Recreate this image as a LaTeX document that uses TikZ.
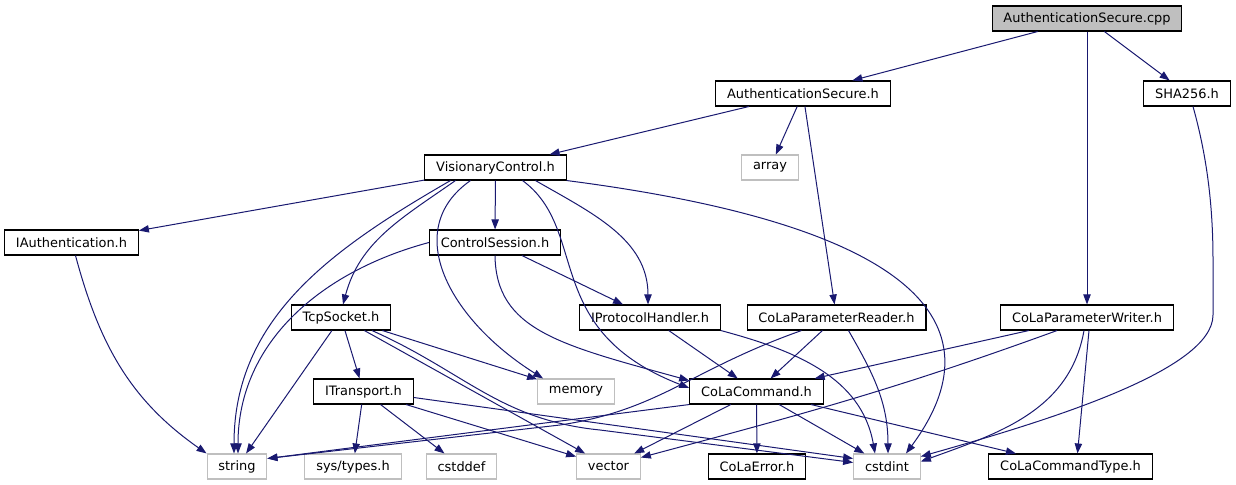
\documentclass[tikz,border=0pt]{standalone}
\usepackage{fontspec}
\setmainfont{DejaVu Sans}
\usetikzlibrary{arrows.meta,calc}
\definecolor{edgeblue}{HTML}{191970}
\definecolor{sysgray}{HTML}{BFBFBF}

\begin{document}
\begin{tikzpicture}[
  x=0.75pt,y=-0.75pt,
  file/.style={draw=black,line width=0.8pt,fill=white,inner xsep=8.5pt,inner ysep=0pt,
    minimum height=18.75pt,font=\fontsize{9.7}{11}\selectfont},
  sys/.style={file,draw=sysgray},
  dep/.style={-{Triangle[length=7.5pt,width=5.5pt]},color=edgeblue,line width=0.75pt}
]
  \useasboundingbox (0,0) rectangle (1236,485);
  \draw (1087,18.5) node[file,fill=sysgray] (cpp) {AuthenticationSecure.cpp}
        (803,93.5) node[file] (ash) {AuthenticationSecure.h}
        (1187,93.5) node[file] (sha) {SHA256.h}
        (770,167.5) node[sys] (arr) {array}
        (495.5,167.5) node[file] (vc) {VisionaryControl.h}
        (71.5,242.5) node[file] (iauth) {IAuthentication.h}
        (495,242.5) node[file] (cs) {ControlSession.h}
        (341,317.5) node[file] (tcp) {TcpSocket.h}
        (650,317.5) node[file] (iph) {IProtocolHandler.h}
        (836.5,317.5) node[file] (cpr) {CoLaParameterReader.h}
        (1087,317.5) node[file] (cpw) {CoLaParameterWriter.h}
        (576,391.5) node[sys] (mem) {memory}
        (363.5,391.5) node[file] (itr) {ITransport.h}
        (756.5,391.5) node[file] (ccmd) {CoLaCommand.h}
        (237,466.5) node[sys] (str) {string}
        (353,466.5) node[sys] (styp) {sys/types.h}
        (461.5,466.5) node[sys] (cdef) {cstddef}
        (608.5,466.5) node[sys] (vec) {vector}
        (757,466.5) node[file] (cerr) {CoLaError.h}
        (887,466.5) node[sys] (cint) {cstdint}
        (1070.5,466.5) node[file] (cct) {CoLaCommandType.h};
  % top level
  \draw[dep] (cpp) -- (ash);
  \draw[dep] (cpp) -- (cpw);
  \draw[dep] (cpp) -- (sha);
  \draw[dep] (ash) -- (vc);
  \draw[dep] (ash) -- (arr);
  \draw[dep] (ash) -- (cpr);
  \draw[dep] ($(sha.south)+(6,0)$) .. controls (1208,160) and (1213,210) .. (1213,260)
        -- (1213,315) .. controls (1213,370) and (1050,420) .. ($(cint.east)+(0,-10)$);
  % VisionaryControl.h
  \draw[dep] (vc) -- (iauth);
  \draw[dep] (vc) -- (cs);
  \draw[dep] ($(vc.south)+(-40,0)$) to[out=-145,in=75] ($(tcp.north)+(2,0)$);
  \draw[dep] ($(vc.south)+(-45,0)$) to[out=-150,in=90] ($(str.north)+(-3,0)$);
  \draw[dep] ($(vc.south)+(-25,0)$) .. controls (400,230) and (450,320) .. ($(mem.north west)+(6,0)$);
  \draw[dep] ($(vc.south)+(27,0)$) .. controls (590,230) and (540,330) .. ($(ccmd.west)+(0,-3.5)$);
  \draw[dep] ($(vc.south)+(40,0)$) to[out=-30,in=90] ($(iph.north)+(-2,0)$);
  \draw[dep] (vc.south east) .. controls (950,230) and (990,340) .. ($(cint.north)+(19,0)$);
  % second level
  \draw[dep] ($(iauth.south)+(4,0)$) to[out=-75,in=145] (str.north west);
  \draw[dep] (cs.west) to[out=195,in=90] ($(str.north)+(1,0)$);
  \draw[dep] (cs) -- (iph);
  \draw[dep] (cs.south) .. controls (496,330) and (560,345) .. ($(ccmd.west)+(0,-11)$);
  \draw[dep] (tcp) -- (itr);
  \draw[dep] (tcp) -- (str);
  \draw[dep] (tcp) -- (mem);
  \draw[dep] (tcp) -- (vec);
  \draw[dep] ($(tcp.south)+(31,0)$) .. controls (465,372) and (500,420) .. (600,430)
        -- ($(cint.west)+(0,-4)$);
  \draw[dep] (itr) -- (styp);
  \draw[dep] (itr) -- (cdef);
  \draw[dep] (itr) -- (vec);
  \draw[dep] ($(itr.east)+(0,6)$) -- ($(cint.west)+(0,-8)$);
  \draw[dep] (iph) -- (ccmd);
  \draw[dep] (iph.south east) to[out=-15,in=100] ($(cint.north)+(-12,0)$);
  \draw[dep] (cpr) -- (ccmd);
  \draw[dep] ($(cpr.south)+(12,0)$) to[out=-60,in=90] ($(cint.north)+(1,0)$);
  \draw[dep] ($(cpr.south)+(-35,0)$) .. controls (690,370) and (660,410) .. (560,425)
        -- ($(str.east)+(0,-8)$);
  \draw[dep] (cpw) -- (ccmd);
  \draw[dep] ($(cpw.south)+(-30,0)$) to[out=-160,in=15] ($(vec.east)+(0,-9)$);
  \draw[dep] ($(cpw.south)+(-3,0)$) to[out=-100,in=20] ($(cint.east)+(0,-5)$);
  \draw[dep] ($(cpw.south)+(2,0)$) -- ($(cct.north)+(7,0)$);
  % CoLaCommand.h
  \draw[dep] (ccmd.south west) -- ($(str.east)+(0,-8)$);
  \draw[dep] (ccmd) -- (vec);
  \draw[dep] (ccmd) -- (cerr);
  \draw[dep] (ccmd) -- (cint);
  \draw[dep] (ccmd) -- (cct);
\end{tikzpicture}
\end{document}
